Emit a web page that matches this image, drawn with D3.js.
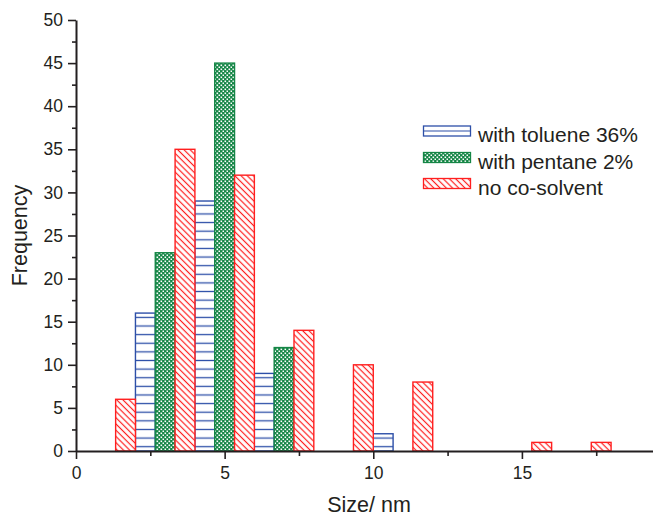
<!DOCTYPE html>
<html>
<head>
<meta charset="utf-8">
<script src="https://cdn.jsdelivr.net/npm/d3@7/dist/d3.min.js"></script>
<style>
  html, body { margin: 0; padding: 0; background: #fff; }
  svg { display: block; }
  text { font-family: "Liberation Sans", Arial, sans-serif; fill: #231f20; }
</style>
</head>
<body>
<script>
// ---- data ----
const binCenters = [1, 3, 5, 7, 9, 11, 13, 15, 17];
const seriesNames = ["with toluene 36%", "with pentane 2%", "no co-solvent"];
const toluene = [0, 16, 29, 9, 0, 2, 0, 0, 0];
const pentane = [0, 23, 45, 12, 0, 0, 0, 0, 0];
const noCosolvent = [6, 35, 32, 14, 10, 8, 0, 1, 1];
const xTicks = [0, 5, 10, 15];
const yTicks = [0, 5, 10, 15, 20, 25, 30, 35, 40, 45, 50];

const W = 653, H = 516;
const svg = d3.select("body").append("svg").attr("width", W).attr("height", H);

const x = d3.scaleLinear().domain([0, 19.41]).range([76, 653]);
const y = d3.scaleLinear().domain([0, 50]).range([451, 20]);

const colors = ["#2d4fa8", "#158646", "#ff1f1f"];
const defs = svg.append("defs");

// blue horizontal lines
const unitPx = y(0) - y(1);
const pb = defs.append("pattern").attr("id", "pBlue").attr("patternUnits", "userSpaceOnUse")
  .attr("x", 0).attr("y", y(0)).attr("width", 10).attr("height", unitPx);
pb.append("rect").attr("width", 10).attr("height", unitPx).attr("fill", "#fff");
pb.append("line").attr("x1", 0).attr("x2", 10).attr("y1", unitPx / 2).attr("y2", unitPx / 2)
  .attr("stroke", colors[0]).attr("stroke-width", 1.3);

// green cross-hatch (dense)
const pg = defs.append("pattern").attr("id", "pGreen").attr("patternUnits", "userSpaceOnUse")
  .attr("width", 4).attr("height", 4);
pg.append("rect").attr("width", 4).attr("height", 4).attr("fill", colors[1]);
pg.append("rect").attr("x", 0.5).attr("y", 0.5).attr("width", 1.6).attr("height", 1.6).attr("fill", "#fff");
pg.append("rect").attr("x", 2.5).attr("y", 2.5).attr("width", 1.6).attr("height", 1.6).attr("fill", "#fff");

// red diagonal "\" lines
const pr = defs.append("pattern").attr("id", "pRed").attr("patternUnits", "userSpaceOnUse")
  .attr("width", 4.4).attr("height", 4.4).attr("patternTransform", "rotate(45)");
pr.append("rect").attr("width", 4.4).attr("height", 4.4).attr("fill", "#fff");
pr.append("line").attr("x1", 0).attr("x2", 4.4).attr("y1", 2.2).attr("y2", 2.2)
  .attr("stroke", colors[2]).attr("stroke-width", 1.2);

const fills = ["url(#pBlue)", "url(#pGreen)", "url(#pRed)"];
const series = [toluene, pentane, noCosolvent];
const barW = 2 / 3;

series.forEach((vals, si) => {
  svg.append("g").selectAll("rect")
    .data(binCenters.map((c, i) => ({ c, v: vals[i] })).filter(d => d.v > 0))
    .join("rect")
    .attr("x", d => x(d.c - 1 + si * barW))
    .attr("width", d => x(d.c - 1 + (si + 1) * barW) - x(d.c - 1 + si * barW))
    .attr("y", d => y(d.v))
    .attr("height", d => y(0) - y(d.v))
    .attr("fill", fills[si])
    .attr("stroke", colors[si])
    .attr("stroke-width", 1.4);
});

// axes
const axisColor = "#231f20";
const yAxis = svg.append("g").attr("transform", `translate(${x(0)},0)`)
  .call(d3.axisLeft(y).tickValues(yTicks).tickSize(8).tickPadding(5).tickSizeOuter(0));
const yMinor = svg.append("g").attr("transform", `translate(${x(0)},0)`)
  .call(d3.axisLeft(y).tickValues(d3.range(2.5, 50, 5)).tickSize(4).tickFormat("").tickSizeOuter(0));
const xAxis = svg.append("g").attr("transform", `translate(0,${y(0)})`)
  .call(d3.axisBottom(x).tickValues(xTicks).tickSize(8).tickPadding(8).tickSizeOuter(0));
const xMinor = svg.append("g").attr("transform", `translate(0,${y(0)})`)
  .call(d3.axisBottom(x).tickValues([2.5, 7.5, 12.5, 17.5]).tickSize(5).tickFormat("").tickSizeOuter(0));

[yAxis, yMinor, xAxis, xMinor].forEach(g => {
  g.selectAll("path.domain").attr("stroke", axisColor).attr("stroke-width", 2);
  g.selectAll(".tick line").attr("stroke", axisColor).attr("stroke-width", 1.6);
  g.selectAll(".tick text").attr("font-size", 17.5).attr("font-family", "Liberation Sans, Arial, sans-serif").attr("fill", axisColor);
});
yMinor.select("path.domain").remove();
xMinor.select("path.domain").remove();

// axis titles
svg.append("text").attr("x", 369).attr("y", 512).attr("text-anchor", "middle")
  .attr("font-size", 21.5).text("Size/ nm");
svg.append("text").attr("transform", `translate(27,${(y(0) + y(50)) / 2}) rotate(-90)`)
  .attr("text-anchor", "middle").attr("font-size", 21.5).text("Frequency");

// legend
const lg = svg.append("g");
const legTops = [126, 152.5, 178.5];
seriesNames.forEach((name, i) => {
  const top = legTops[i];
  if (i === 0) {
    lg.append("rect").attr("x", 423.5).attr("y", top).attr("width", 47).attr("height", 10)
      .attr("fill", "#fff").attr("stroke", colors[0]).attr("stroke-width", 1.3);
    lg.append("line").attr("x1", 423.5).attr("x2", 470.5).attr("y1", top + 5).attr("y2", top + 5)
      .attr("stroke", colors[0]).attr("stroke-width", 1.2);
  } else {
    lg.append("rect").attr("x", 423.5).attr("y", top).attr("width", 47).attr("height", 10)
      .attr("fill", fills[i]).attr("stroke", colors[i]).attr("stroke-width", 1.3);
  }
  lg.append("text").attr("x", 478).attr("y", top + 16).attr("font-size", 21).text(name);
});
</script>
</body>
</html>
